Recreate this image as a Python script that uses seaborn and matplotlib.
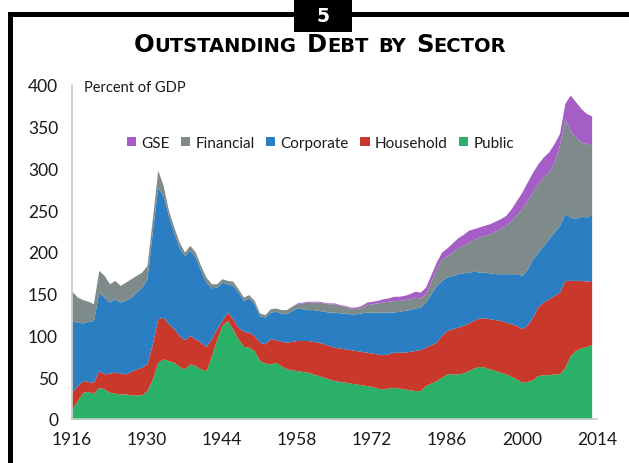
import matplotlib
matplotlib.use("Agg")
import matplotlib.pyplot as plt
import seaborn as sns
import numpy as np
from matplotlib.patches import Rectangle, Patch

# ---------------- data (percent of GDP, stacked layers) ----------------
years = list(range(1916, 2014))

public = [12, 22, 32, 33, 31, 38, 36, 32, 31, 30, 30, 29, 29, 29, 34, 48, 68, 72, 70, 68,
          63, 60, 66, 64, 60, 58, 75, 95, 112, 118, 108, 96, 87, 86, 82, 70, 67, 66, 68, 64,
          60, 59, 58, 57, 56, 54, 52, 50, 48, 46, 45, 44, 43, 42, 41, 40, 39, 37, 36, 37,
          38, 37, 36, 35, 34, 34, 40, 43, 46, 50, 54, 54, 54, 55, 58, 61, 63, 62, 60, 58,
          56, 54, 51, 48, 44, 45, 47, 52, 53, 53, 54, 54, 62, 76, 82, 85, 87, 89]

household = [20, 18, 14, 12, 13, 20, 18, 23, 25, 25, 24, 28, 31, 33, 32, 42, 52, 50, 44, 40,
             37, 35, 34, 32, 32, 29, 21, 13, 6, 10, 12, 14, 18, 18, 18, 22, 23, 30, 27, 29,
             32, 34, 36, 37, 38, 39, 40, 40, 40, 40, 40, 40, 40, 40, 40, 40, 40, 41, 41, 41,
             42, 43, 44, 46, 48, 49, 46, 46, 46, 50, 52, 54, 56, 57, 57, 57, 58, 59, 60, 61,
             62, 62, 63, 64, 64, 68, 75, 83, 87, 91, 94, 98, 104, 90, 84, 81, 78, 77]

corporate = [86, 76, 69, 72, 74, 94, 92, 85, 88, 85, 88, 89, 92, 96, 102, 135, 157, 146, 130, 116,
             105, 101, 102, 98, 86, 77, 61, 50, 46, 34, 40, 42, 37, 41, 38, 32, 32, 32, 34, 34,
             34, 37, 39, 38, 37, 38, 38, 39, 40, 42, 42, 43, 43, 44, 46, 48, 49, 50, 51, 50,
             48, 49, 50, 50, 51, 51, 54, 61, 68, 66, 64, 64, 64, 63, 61, 59, 55, 55, 55, 55,
             56, 58, 60, 62, 64, 67, 70, 65, 68, 72, 76, 80, 80, 76, 74, 77, 77, 79]

financial = [35, 30, 28, 24, 20, 26, 26, 22, 22, 20, 22, 22, 20, 18, 16, 15, 21, 12, 6, 6,
             7, 4, 6, 6, 6, 6, 5, 4, 4, 4, 5, 4, 4, 4, 4, 3, 3, 4, 4, 4,
             5, 5, 5, 7, 9, 9, 10, 10, 10, 10, 9, 8, 7, 6, 7, 9, 10, 11, 12, 13,
             14, 13, 13, 13, 13, 11, 10, 15, 20, 26, 25, 28, 31, 33, 36, 38, 42, 44, 47, 51,
             54, 58, 64, 71, 80, 82, 80, 82, 82, 80, 84, 96, 114, 103, 98, 89, 88, 83]

gse = [0, 0, 0, 0, 0, 0, 0, 0, 0, 0, 0, 0, 0, 0, 0, 0, 0, 0, 0, 0,
       0, 0, 0, 0, 0, 0, 0, 0, 0, 0, 0, 0, 0, 0, 0, 0, 0, 0, 0, 0,
       0, 0, 1, 1, 1, 1, 1, 1, 1, 1, 1, 1, 1, 2, 2, 3, 3, 3, 4, 4,
       5, 5, 5, 6, 7, 7, 8, 8, 8, 8, 10, 11, 12, 13, 14, 13, 12, 12, 12, 12,
       12, 12, 14, 17, 20, 22, 24, 24, 24, 24, 22, 14, 18, 43, 42, 40, 36, 35]

series_names = ["GSE", "Financial", "Corporate", "Household", "Public"]
y_ticks = [0, 50, 100, 150, 200, 250, 300, 350, 400]
x_ticks = [1916, 1930, 1944, 1958, 1972, 1986, 2000, 2014]

colors = {"Public": "#2bb067", "Household": "#c9392b", "Corporate": "#2b7ec1",
          "Financial": "#7f8a8a", "GSE": "#a45ec6"}

# ---------------- figure ----------------
sns.set_theme(style="white")
plt.rcParams["font.family"] = ["Lato", "DejaVu Sans"]

W, H = 629, 464
fig = plt.figure(figsize=(W / 100, H / 100), dpi=100)
fig.patch.set_facecolor("white")

def fx(px):
    return px / W

def fy(py):
    return 1 - py / H

ax = fig.add_axes([fx(72), fy(420), fx(597) - fx(72), fy(86) - fy(420)])
ax.set_facecolor("white")

stack_order = ["Public", "Household", "Corporate", "Financial", "GSE"]
data = {"Public": public, "Household": household, "Corporate": corporate,
        "Financial": financial, "GSE": gse}
ax.stackplot(years, [data[k] for k in stack_order],
             colors=[colors[k] for k in stack_order], linewidth=0, antialiased=True)

ax.set_xlim(1916, 2014)
ax.set_ylim(0, 400)
ax.set_xticks(x_ticks)
ax.set_yticks(y_ticks)
ax.tick_params(axis="both", which="major", length=5, width=1, color="#c8c8c8",
               labelsize=12.5, labelcolor="#1a1a1a", direction="out", pad=5)
ax.tick_params(axis="x", pad=4)
sns.despine(ax=ax, top=True, right=True)
for side in ["left", "bottom"]:
    ax.spines[side].set_color("#c8c8c8")
    ax.spines[side].set_linewidth(1.2)
ax.grid(False)

fig.text(fx(84), fy(88), "Percent of GDP", fontsize=10.5, color="#1a1a1a",
         ha="left", va="center")

handles = [Patch(facecolor=colors[n], edgecolor="none", label=n) for n in series_names]
fig.legend(handles=handles, loc="center", bbox_to_anchor=(fx(320.5), fy(144)),
           ncol=5, frameon=False, fontsize=11, handlelength=0.6, handleheight=0.6,
           handletextpad=0.35, columnspacing=0.75, borderpad=0, borderaxespad=0,
           labelcolor="#1a1a1a")

# ---------------- frame decoration ----------------
fig.add_artist(Rectangle((fx(8), fy(18)), 1 - fx(8), fy(13) - fy(18),
                         transform=fig.transFigure, facecolor="black", edgecolor="none"))
fig.add_artist(Rectangle((fx(8), 0), fx(13) - fx(8), fy(13),
                         transform=fig.transFigure, facecolor="black", edgecolor="none"))
fig.add_artist(Rectangle((fx(294), fy(33)), fx(352) - fx(294), fy(0) - fy(33),
                         transform=fig.transFigure, facecolor="black", edgecolor="none"))
fig.text(fx(323), fy(16), "5", color="white", fontsize=13.5, fontweight="bold",
         family=["DejaVu Sans"], ha="center", va="center")

# ---------------- small-caps title ----------------
words = [("O", "UTSTANDING"), ("D", "EBT"), ("", "BY"), ("S", "ECTOR")]
big, small = 17.5, 14
gap = 10
renderer = fig.canvas.get_renderer()
pieces = []
for first, rest in words:
    wp = []
    if first:
        wp.append(fig.text(0, 0, first, fontsize=big, fontweight="bold", color="black",
                           family=["DejaVu Sans"], ha="left", va="baseline", transform=None))
    wp.append(fig.text(0, 0, rest, fontsize=small, fontweight="bold", color="black",
                       family=["DejaVu Sans"], ha="left", va="baseline", transform=None))
    pieces.append(wp)

widths = [[t.get_window_extent(renderer).width for t in wp] for wp in pieces]
total = sum(sum(w) for w in widths) + gap * (len(words) - 1)
x = 320 - total / 2
base_y = H - 52
for wp, ws in zip(pieces, widths):
    for t, w in zip(wp, ws):
        t.set_position((x, base_y))
        x += w
    x += gap

fig.savefig("out.png", dpi=100, facecolor="white")
